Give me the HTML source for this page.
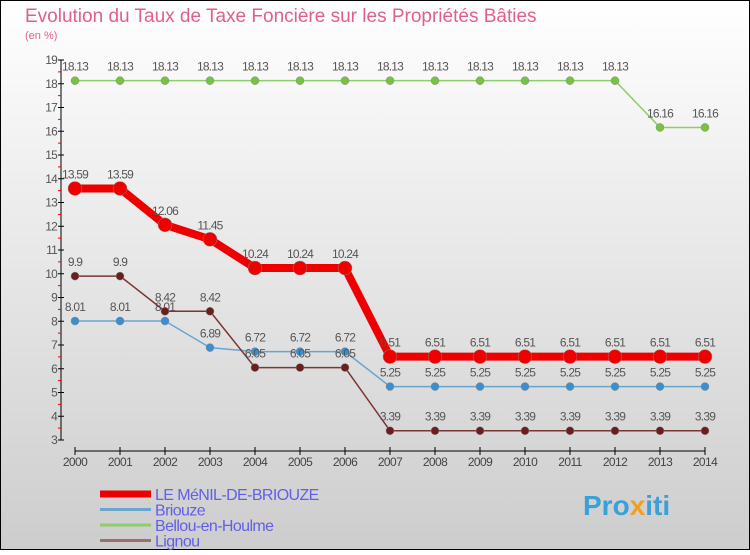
<!DOCTYPE html>
<html><head><meta charset="utf-8"><style>
body{margin:0}
#c{width:750px;height:550px;position:relative;font-family:"Liberation Sans","DejaVu Sans",sans-serif}
</style></head><body>
<div id="c">
<svg id="s" width="750" height="550" xmlns="http://www.w3.org/2000/svg">
<defs><linearGradient id="bg" x1="0" y1="0" x2="0" y2="1"><stop offset="0" stop-color="#ffffff"/><stop offset="1" stop-color="#cdcdcd"/></linearGradient></defs>
<rect x="0.5" y="0.5" width="749" height="549" fill="url(#bg)" stroke="#000" stroke-width="1"/>
<text x="25" y="22" font-size="19" fill="#e0608a">Evolution du Taux de Taxe Foncière sur les Propriétés Bâties</text>
<text x="25" y="39" font-size="11" fill="#e0608a">(en %)</text>
<g id="axes"></g><g id="series"></g><g id="legend"></g>
<text x="583" y="515" font-size="28" font-weight="bold" fill="#3aa0d8">Pro<tspan fill="#f0a020">x</tspan><tspan fill="#3aa0d8">iti</tspan></text>
</svg>
</div>
<script>
const years=[2000,2001,2002,2003,2004,2005,2006,2007,2008,2009,2010,2011,2012,2013,2014];
const yTicks=[3,4,5,6,7,8,9,10,11,12,13,14,15,16,17,18,19];
const menil=[13.59,13.59,12.06,11.45,10.24,10.24,10.24,6.51,6.51,6.51,6.51,6.51,6.51,6.51,6.51];
const briouze=[8.01,8.01,8.01,6.89,6.72,6.72,6.72,5.25,5.25,5.25,5.25,5.25,5.25,5.25,5.25];
const bellou=[18.13,18.13,18.13,18.13,18.13,18.13,18.13,18.13,18.13,18.13,18.13,18.13,18.13,16.16,16.16];
const lignou=[9.9,9.9,8.42,8.42,6.05,6.05,6.05,3.39,3.39,3.39,3.39,3.39,3.39,3.39,3.39];
const seriesNames=["LE MéNIL-DE-BRIOUZE","Briouze","Bellou-en-Houlme","Lignou"];
const NS="http://www.w3.org/2000/svg";
const X=i=>75+i*45;
const Y=v=>440-(v-3)*23.75;
function mk(t,a,p){const e=document.createElementNS(NS,t);for(const k in a)e.setAttribute(k,a[k]);p.appendChild(e);return e;}
const ax=document.getElementById('axes');
let l=mk('line',{x1:61,y1:Y(19),x2:61,y2:Y(3),stroke:'#000'},ax);


yTicks.forEach(v=>{
 mk('line',{x1:58,x2:64,y1:Y(v),y2:Y(v),stroke:'#000'},ax);
 if(v<19)mk('line',{x1:58,x2:61,y1:Y(v+0.5),y2:Y(v+0.5),stroke:'#e00'},ax);
 const t=mk('text',{x:57,y:Y(v)+4,'font-size':12,'text-anchor':'end',fill:'#555','letter-spacing':'-0.8'},ax);
 t.textContent=v;
 
 
});
l=mk('line',{x1:X(0),y1:451,x2:X(14),y2:451,stroke:'#000'},ax);


years.forEach((y,i)=>{
 mk('line',{x1:X(i),x2:X(i),y1:447,y2:455,stroke:'#000'},ax);
 const t=mk('text',{x:X(i),y:466,'font-size':12,'text-anchor':'middle',fill:'#444','letter-spacing':'-0.6'},ax);
 t.textContent=y;
 
 
});
const sg=document.getElementById('series');
function draw(vals,color,w,r,dot,name){
 const g=mk('g',{},sg);
 
 
 mk('polyline',{points:vals.map((v,i)=>X(i)+','+Y(v)).join(' '),fill:'none',stroke:color,'stroke-width':w,'stroke-linejoin':'round'},g);
 vals.forEach((v,i)=>{
  const c=mk('circle',{cx:X(i),cy:Y(v),r:r,fill:dot,stroke:'#888','stroke-width':0.5},g);
  
  
  const t=mk('text',{x:X(i),y:Y(v)-10,'font-size':12,'text-anchor':'middle',fill:'#555','letter-spacing':'-0.8'},g);
  t.textContent=v;
  
  
 });
}
draw(bellou,'#8ccf6a',1.5,4,'#77c33f','series-bellou');
draw(briouze,'#6aa5d0',1.5,4,'#3a8fd0','series-briouze');
draw(lignou,'#7a3535',1.5,4,'#6a1e1e','series-lignou');
draw(menil,'#ee0000',8,7,'#ee0000','series-menil');
const lg=document.getElementById('legend');
const lc=['#ee0000','#6aa5d0','#8ccf6a','#987070'],lw=[7,3,3,3];
seriesNames.forEach((n,i)=>{
 const g=mk('g',{},lg);
 
 
 const y=492+i*15.5;
 mk('line',{x1:100,x2:151,y1:y+2,y2:y+2,stroke:lc[i],'stroke-width':lw[i]},g);
 const t=mk('text',{x:155,y:y+8,'font-size':16,fill:'#6060e8','letter-spacing':'-0.6'},g);
 t.textContent=n;
});
</script>
</body></html>
